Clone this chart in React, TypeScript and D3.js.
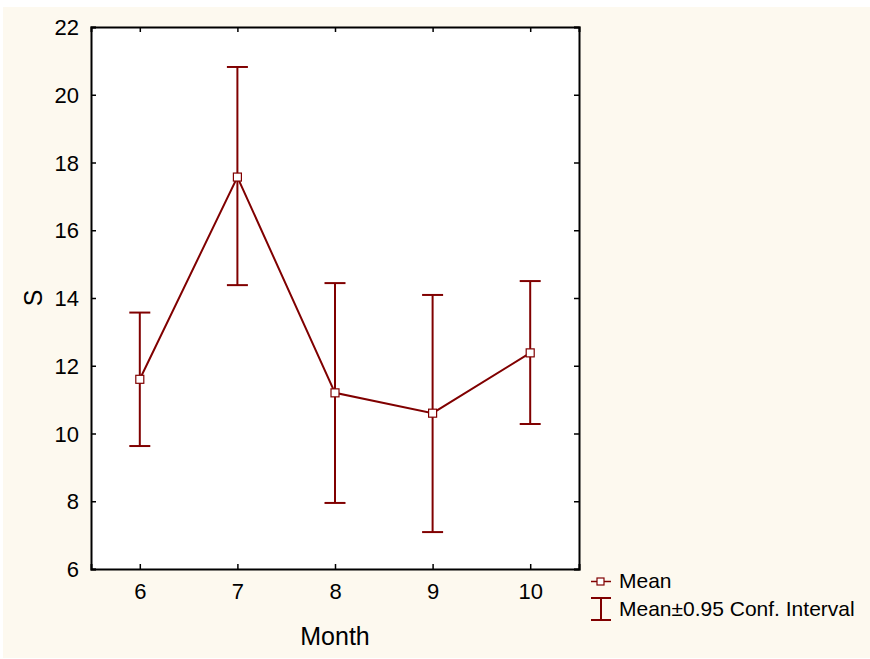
import React, { useEffect, useRef } from "react";
import * as d3 from "d3";

// values
const months = ["6", "7", "8", "9", "10"];
const means = [11.6, 17.57, 11.2, 10.6, 12.38];
const upper = [13.57, 20.82, 14.44, 14.09, 14.5];
const lower = [9.63, 14.38, 7.95, 7.09, 10.28];
const yTicks = [6, 8, 10, 12, 14, 16, 18, 20, 22];

const W = 870;
const H = 659;
const margin = { top: 27, right: 291, bottom: 90, left: 91 };
const lineColor = "#800000";
const font = "Arial, 'Liberation Sans', sans-serif";

export default function App() {
  const ref = useRef<SVGSVGElement>(null);

  useEffect(() => {
    const svg = d3.select(ref.current);
    svg.selectAll("*").remove();

    const innerW = W - margin.left - margin.right;
    const innerH = H - margin.top - margin.bottom;

    svg.append("rect").attr("x", 3).attr("y", 7).attr("width", W - 3).attr("height", 651).attr("fill", "#fdf9ef");

    const g = svg.append("g").attr("transform", `translate(${margin.left},${margin.top})`);
    g.append("rect").attr("width", innerW).attr("height", innerH).attr("fill", "#ffffff");

    const x = d3.scalePoint<string>().domain(months).range([0, innerW]).padding(0.5);
    const y = d3.scaleLinear().domain([6, 22]).range([innerH, 0]);

    const data = months.map((m, i) => ({ m, mean: means[i], hi: upper[i], lo: lower[i] }));

    // error bars
    const bars = g.selectAll(".err").data(data).join("g").attr("class", "err")
      .attr("stroke", lineColor).attr("stroke-width", 2);
    bars.append("line").attr("x1", d => x(d.m)!).attr("x2", d => x(d.m)!)
      .attr("y1", d => y(d.hi)).attr("y2", d => y(d.lo));
    bars.append("line").attr("x1", d => x(d.m)! - 10.5).attr("x2", d => x(d.m)! + 10.5)
      .attr("y1", d => y(d.hi)).attr("y2", d => y(d.hi));
    bars.append("line").attr("x1", d => x(d.m)! - 10.5).attr("x2", d => x(d.m)! + 10.5)
      .attr("y1", d => y(d.lo)).attr("y2", d => y(d.lo));

    // mean line
    const line = d3.line<{ m: string; mean: number }>().x(d => x(d.m)!).y(d => y(d.mean));
    g.append("path").datum(data).attr("d", line).attr("fill", "none")
      .attr("stroke", lineColor).attr("stroke-width", 2);

    g.selectAll(".pt").data(data).join("rect").attr("class", "pt")
      .attr("x", d => x(d.m)! - 4).attr("y", d => y(d.mean) - 4)
      .attr("width", 8).attr("height", 8)
      .attr("fill", "#fff").attr("stroke", lineColor).attr("stroke-width", 1.2);

    // axes (inner ticks on every side)
    const left = g.append("g").call(d3.axisLeft(y).tickValues(yTicks).tickSize(-5).tickPadding(12));
    const right = g.append("g").attr("transform", `translate(${innerW},0)`)
      .call(d3.axisRight(y).tickValues(yTicks).tickSize(-5).tickFormat(() => ""));
    const bottom = g.append("g").attr("transform", `translate(0,${innerH})`)
      .call(d3.axisBottom(x).tickSize(-5).tickPadding(14));
    const top = g.append("g").call(d3.axisTop(x).tickSize(-5).tickFormat(() => ""));
    [left, right, bottom, top].forEach(a => {
      a.attr("font-size", 22).attr("font-family", font);
      a.select(".domain").attr("stroke", "#000").attr("stroke-width", 2);
      a.selectAll(".tick line").attr("stroke", "#000").attr("stroke-width", 1.5);
      a.selectAll(".tick text").attr("fill", "#000");
    });
    left.selectAll(".tick text").attr("dy", "0.35em");

    svg.append("text").attr("x", margin.left + innerW / 2).attr("y", 645)
      .attr("text-anchor", "middle").attr("font-family", font).attr("font-size", 25).text("Month");
    svg.append("text").attr("transform", `translate(42,${margin.top + innerH / 2}) rotate(-90)`)
      .attr("text-anchor", "middle").attr("font-family", font).attr("font-size", 25).text("S");

    // legend
    const lg = svg.append("g").attr("font-family", font).attr("font-size", 21);
    lg.append("line").attr("x1", 591).attr("x2", 611).attr("y1", 581.5).attr("y2", 581.5)
      .attr("stroke", lineColor).attr("stroke-width", 1.5);
    lg.append("rect").attr("x", 597).attr("y", 578).attr("width", 7).attr("height", 7)
      .attr("fill", "#fff").attr("stroke", lineColor).attr("stroke-width", 1.2);
    lg.append("text").attr("x", 619).attr("y", 588).text("Mean");
    const le = lg.append("g").attr("stroke", lineColor).attr("stroke-width", 2);
    le.append("line").attr("x1", 601).attr("x2", 601).attr("y1", 598).attr("y2", 620);
    le.append("line").attr("x1", 591).attr("x2", 611).attr("y1", 598).attr("y2", 598);
    le.append("line").attr("x1", 591).attr("x2", 611).attr("y1", 620).attr("y2", 620);
    lg.append("text").attr("x", 619).attr("y", 616).text("Mean±0.95 Conf. Interval");
  }, []);

  return <svg ref={ref} width={W} height={H} style={{ position: "absolute", left: 0, top: 0 }} />;
}
